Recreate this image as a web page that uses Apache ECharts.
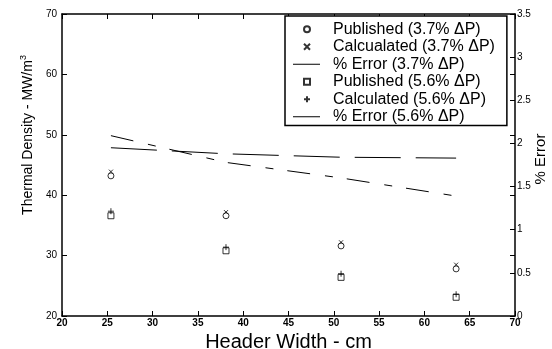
<!DOCTYPE html>
<html>
<head>
<meta charset="utf-8">
<script src="https://cdn.jsdelivr.net/npm/echarts@6/dist/echarts.min.js"></script>
<style>
html,body{margin:0;padding:0;background:#fff;}
#chart{width:552px;height:349px;}
</style>
</head>
<body>
<div id="chart"></div>
<script>
// Header width (cm)
const headerWidth = [25.4, 38.1, 50.8, 63.5];
// Thermal density (MW/m^3)
const published37 = [43.2, 36.6, 31.6, 27.8];
const calculated37 = [43.9, 37.2, 32.2, 28.5];
const published56 = [36.6, 30.8, 26.4, 23.1];
const calculated56 = [37.35, 31.4, 27.0, 23.6];
// % Error
const error37 = [1.95, 1.88, 1.84, 1.83];
const error56 = [2.09, 1.78, 1.60, 1.39];

const xTicks = {min: 20, max: 70, interval: 5};
const yLeftTicks = {min: 20, max: 70, interval: 10};
const yRightTicks = {min: 0, max: 3.5, interval: 0.5};

const seriesNames = [
  'Published (3.7% ΔP)',
  'Calcualated (3.7% ΔP)',
  '% Error (3.7% ΔP)',
  'Published (5.6% ΔP)',
  'Calculated (5.6% ΔP)',
  '% Error (5.6% ΔP)'
];

function pairs(xs, ys) { return xs.map((x, i) => [x, ys[i]]); }

const FONT = 'Liberation Sans, Arial, sans-serif';
const black = '#000';
const axisLineStyle = {color: black, width: 1.5};
const tickStyle = {color: black, width: 1};

const xMark = 'path://M0,0L10,10M10,0L0,10';
const plusMark = 'path://M5,0L5,10M0,5L10,5';
const squareMark = 'path://M0,0L10,0L10,10L0,10Z';
const legendLineIcon = 'path://M0,0L0,0M0,2.5L27,2.5L27,3.5L0,3.5ZM28,6L28,6';

const chart = echarts.init(document.getElementById('chart'), null, {renderer: 'canvas'});
chart.setOption({
  backgroundColor: '#fff',
  animation: false,
  grid: {left: 62, right: 37, top: 14, bottom: 33, containLabel: false, outerBoundsMode: 'none'},
  legend: {
    orient: 'vertical',
    left: 285,
    top: 16,
    padding: [4.5, 12, 0, 8],
    itemWidth: 28,
    itemHeight: 6,
    itemGap: 0,
    borderColor: black,
    borderWidth: 1.5,
    backgroundColor: '#fff',
    textStyle: {fontFamily: FONT, fontSize: 16, color: black, lineHeight: 17.5, padding: [0, 0, 0, 7]},
    data: [
      {name: seriesNames[0]},
      {name: seriesNames[1]},
      {name: seriesNames[2], icon: legendLineIcon, itemStyle: {color: black, borderWidth: 0}},
      {name: seriesNames[3]},
      {name: seriesNames[4]},
      {name: seriesNames[5], icon: legendLineIcon, itemStyle: {color: black, borderWidth: 0}}
    ]
  },
  xAxis: [
    {
      type: 'value', position: 'bottom', min: xTicks.min, max: xTicks.max, interval: xTicks.interval,
      axisLine: {show: true, onZero: false, lineStyle: axisLineStyle},
      axisTick: {show: true, inside: true, length: 5, lineStyle: tickStyle},
      axisLabel: {show: true, fontFamily: FONT, fontSize: 10, fontWeight: 'bold', color: black, margin: 2},
      splitLine: {show: false},
      name: 'Header Width - cm', nameLocation: 'middle', nameGap: 13,
      nameTextStyle: {fontFamily: FONT, fontSize: 20, color: black, verticalAlign: 'top'}
    },
    {
      type: 'value', position: 'top', min: xTicks.min, max: xTicks.max, interval: xTicks.interval,
      axisLine: {show: true, onZero: false, lineStyle: axisLineStyle},
      axisTick: {show: true, inside: true, length: 5, lineStyle: tickStyle},
      axisLabel: {show: false},
      splitLine: {show: false}
    }
  ],
  yAxis: [
    {
      type: 'value', position: 'left', min: yLeftTicks.min, max: yLeftTicks.max, interval: yLeftTicks.interval,
      axisLine: {show: true, onZero: false, lineStyle: axisLineStyle},
      axisTick: {show: true, inside: true, length: 5, lineStyle: tickStyle},
      axisLabel: {show: true, fontFamily: FONT, fontSize: 10, color: black, margin: 5},
      splitLine: {show: false},
      name: 'Thermal Density - MW/m{sup|3}', nameLocation: 'middle', nameGap: 25,
      nameTextStyle: {
        fontFamily: FONT, fontSize: 14, color: black, padding: [0, 0, 0, 60],
        rich: {sup: {fontFamily: FONT, fontSize: 9, color: black, padding: [0, 0, 9, 0]}}
      }
    },
    {
      type: 'value', position: 'right', min: yRightTicks.min, max: yRightTicks.max, interval: yRightTicks.interval,
      axisLine: {show: true, onZero: false, lineStyle: axisLineStyle},
      axisTick: {show: true, inside: true, length: 5, lineStyle: tickStyle},
      axisLabel: {show: true, fontFamily: FONT, fontSize: 10, color: black, margin: 2},
      splitLine: {show: false},
      name: '% Error', nameLocation: 'middle', nameGap: 18, nameMoveOverlap: false,
      nameTextStyle: {fontFamily: FONT, fontSize: 15, color: black, padding: [0, 0, 0, 12]}
    },
    {
      type: 'value', position: 'right', min: yLeftTicks.min, max: yLeftTicks.max, interval: yLeftTicks.interval,
      axisLine: {show: false},
      axisTick: {show: true, inside: true, length: 5, lineStyle: tickStyle},
      axisLabel: {show: false},
      splitLine: {show: false}
    }
  ],
  series: [
    {
      name: seriesNames[0], type: 'scatter', xAxisIndex: 0, yAxisIndex: 0,
      symbol: 'circle', symbolSize: 6,
      itemStyle: {color: '#fff', borderColor: black, borderWidth: 1},
      data: pairs(headerWidth, published37)
    },
    {
      name: seriesNames[1], type: 'scatter', xAxisIndex: 0, yAxisIndex: 0,
      symbol: xMark, symbolSize: 4,
      itemStyle: {color: black, borderColor: black, borderWidth: 1},
      data: pairs(headerWidth, calculated37)
    },
    {
      name: seriesNames[2], type: 'line', xAxisIndex: 0, yAxisIndex: 1,
      symbol: 'none', showSymbol: false,
      lineStyle: {color: black, width: 1, type: [46, 15]},
      itemStyle: {color: black},
      data: pairs(headerWidth, error37)
    },
    {
      name: seriesNames[3], type: 'scatter', xAxisIndex: 0, yAxisIndex: 0,
      symbol: squareMark, symbolSize: 6,
      itemStyle: {color: '#fff', borderColor: black, borderWidth: 1},
      data: pairs(headerWidth, published56)
    },
    {
      name: seriesNames[4], type: 'scatter', xAxisIndex: 0, yAxisIndex: 0,
      symbol: plusMark, symbolSize: 6,
      itemStyle: {color: black, borderColor: black, borderWidth: 1},
      data: pairs(headerWidth, calculated56)
    },
    {
      name: seriesNames[5], type: 'line', xAxisIndex: 0, yAxisIndex: 1,
      symbol: 'none', showSymbol: false,
      lineStyle: {color: black, width: 1, type: [23, 15, 8, 14]},
      itemStyle: {color: black},
      data: pairs(headerWidth, error56)
    }
  ]
});
</script>
</body>
</html>
